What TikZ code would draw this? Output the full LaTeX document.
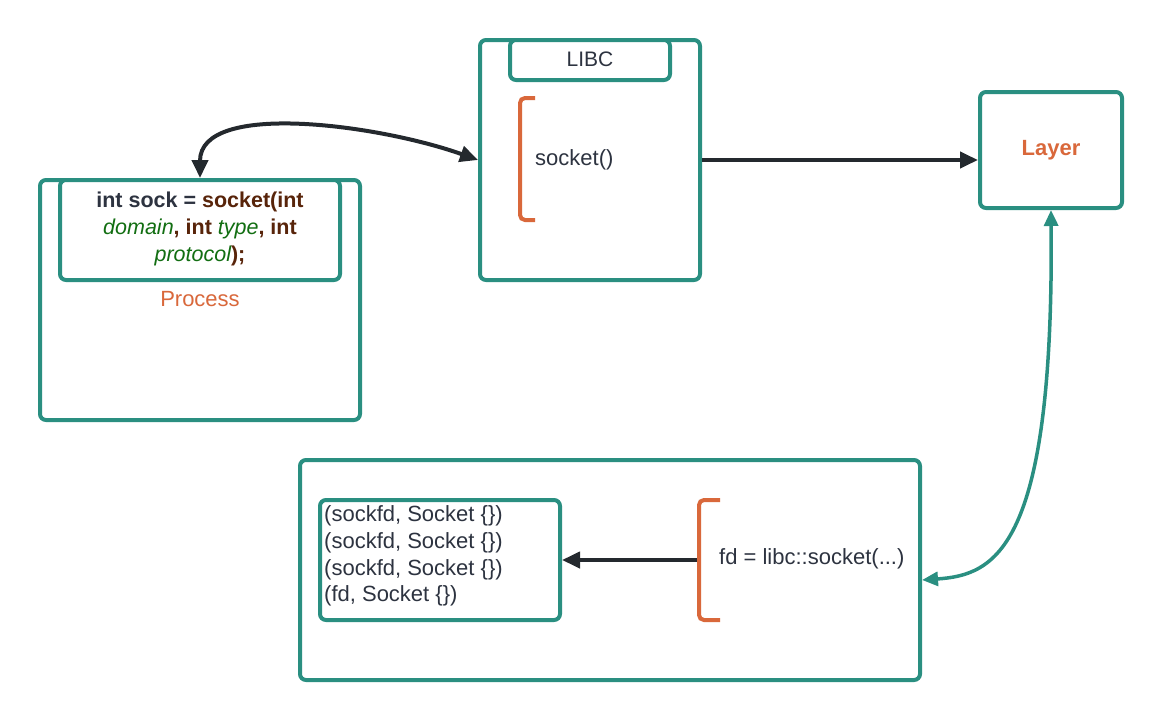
\documentclass[tikz,border=0pt]{standalone}
\usepackage{fontspec}
\setmainfont{Liberation Sans}
\usetikzlibrary{arrows.meta}
\definecolor{teal}{RGB}{42,143,129}
\definecolor{orng}{RGB}{217,104,59}
\definecolor{dark}{RGB}{36,41,46}
\definecolor{txt}{RGB}{45,51,64}
\definecolor{brn}{RGB}{88,36,10}
\definecolor{grn}{RGB}{18,110,18}
\begin{document}
\begin{tikzpicture}[x=1pt,y=-1pt,
  box/.style={draw=teal,line width=4pt,rounded corners=6pt,fill=white,inner sep=0pt},
  brk/.style={draw=orng,line width=4pt,rounded corners=5pt},
  darr/.style={draw=dark,line width=4pt,-{Triangle[length=18pt,width=16pt]}},
  tarr/.style={draw=teal,line width=3.5pt,{Triangle[length=16pt,width=14pt]}-{Triangle[length=16pt,width=14pt]}},
  lbl/.style={text=txt,font=\fontsize{22}{26.7}\selectfont,inner sep=0pt}]
\useasboundingbox (0,0) rectangle (1162,720);
% Process
\node[box,minimum width=320pt,minimum height=240pt] (proc) at (200,300) {};
\node[box,minimum width=280pt,minimum height=100pt] (code) at (200,230) {};
\node[inner sep=0pt,align=center,font=\fontsize{21.5}{27}\selectfont] (codetxt) at (200,229)
 {{\bfseries\color{txt}int sock = \color{brn}socket(int}\\
  {\itshape\color{grn}domain}{\bfseries\color{brn}, int }{\itshape\color{grn}type}{\bfseries\color{brn}, int}\\
  {\itshape\color{grn}protocol}{\bfseries\color{brn});}};
\node[lbl,text=orng] (ptxt) at (200,299) {Process};
% LIBC
\node[box,minimum width=220pt,minimum height=240pt] (libc) at (590,160) {};
\node[box,minimum width=160pt,minimum height=40pt] (libct) at (590,60) {};
\node[lbl,font=\fontsize{21}{24}\selectfont] (libctxt) at (590,59) {LIBC};
\draw[brk] (535,98) -- (520,98) -- (520,220) -- (535,220);
\node[lbl,anchor=west] (sock) at (535,160) {socket()};
% Layer
\node[box,minimum width=142pt,minimum height=116pt] (layer) at (1051,150) {};
\node[lbl,text=orng,font=\bfseries\fontsize{22}{24}\selectfont] (layertxt) at (1051,150) {Layer};
% Bottom
\node[box,minimum width=620pt,minimum height=220pt] (bot) at (610,570) {};
\node[box,minimum width=240pt,minimum height=120pt] (list) at (440,560) {};
\node[lbl,anchor=west,align=left] (listtxt) at (324,556)
 {(sockfd, Socket \{\})\\(sockfd, Socket \{\})\\(sockfd, Socket \{\})\\(fd, Socket \{\})};
\draw[brk] (720,500) -- (699,500) -- (699,620) -- (720,620);
\coordinate (b2) at (697,560);
\node[lbl,anchor=west] (fd) at (719,559) {fd = libc::socket(...)};
% Arrows
\draw[darr] (libc.east) -- (libc.east -| layer.west);
\draw[darr] (b2) -- (list.east);
\draw[darr,{Triangle[length=18pt,width=16pt]}-{Triangle[length=18pt,width=16pt]}] (proc.north) .. controls (200,100) and (380,125) .. (libc.west);
\draw[tarr] (layer.south) .. controls (1054,550) and (995,575) .. ([yshift=-10pt]bot.east);
\end{tikzpicture}
\end{document}
